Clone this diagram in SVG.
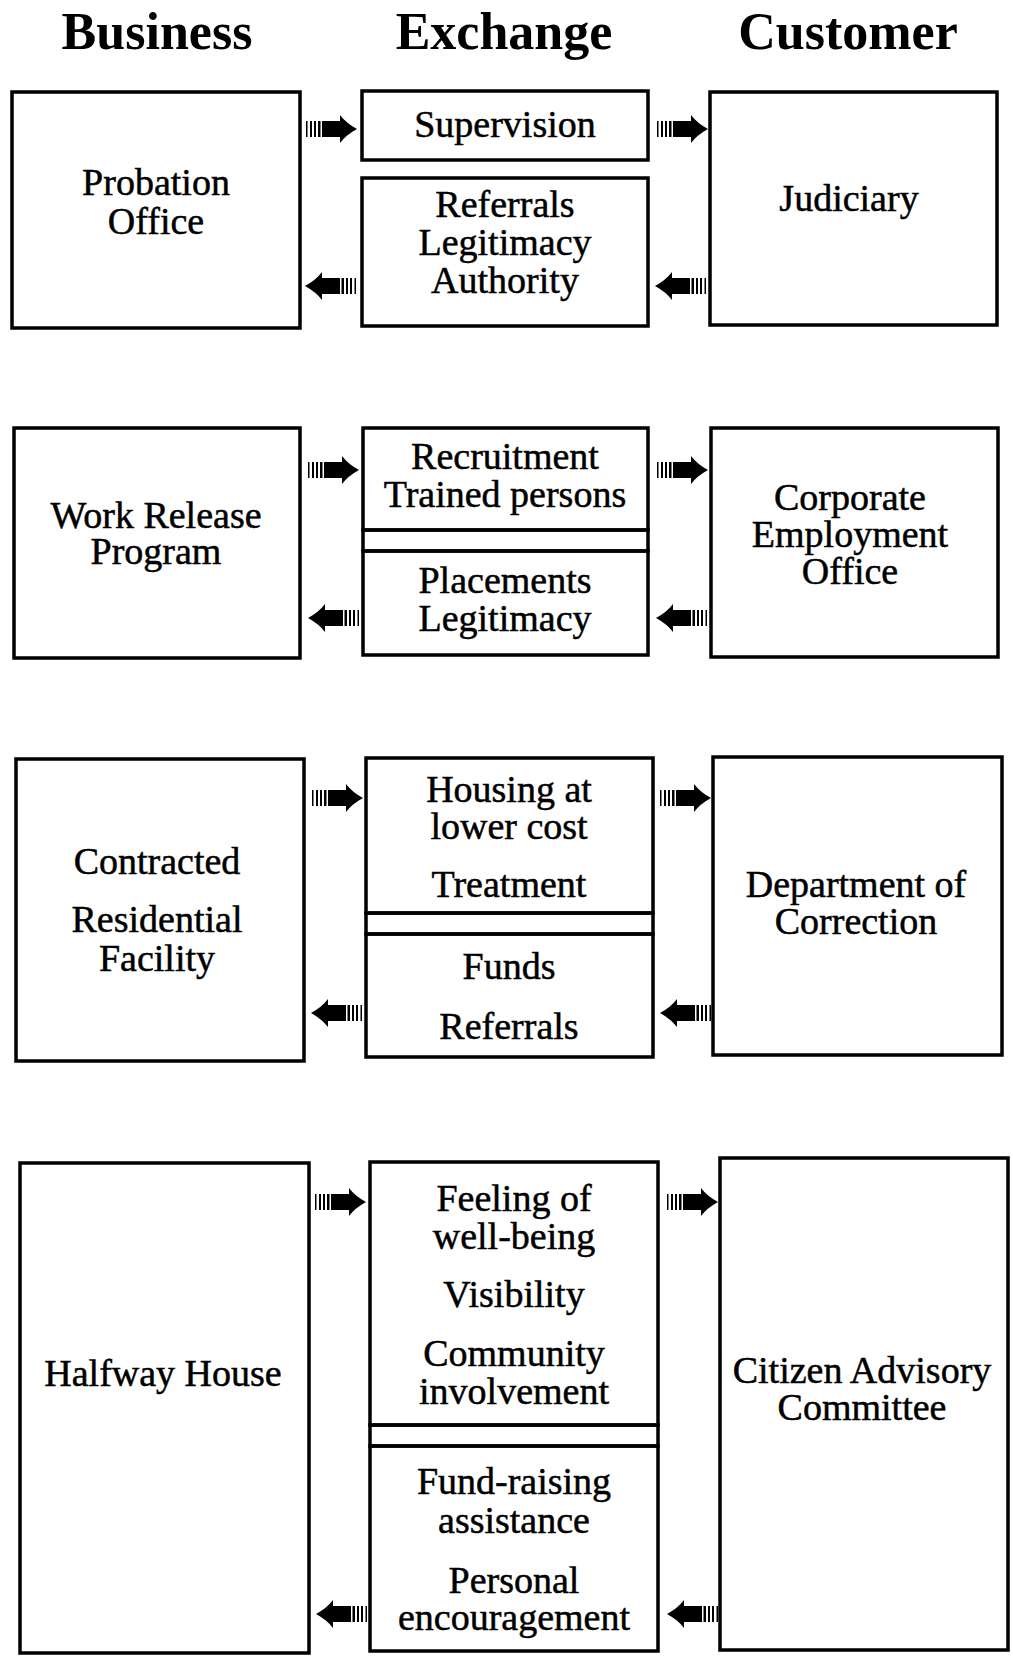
<svg xmlns="http://www.w3.org/2000/svg" width="1013" height="1660" viewBox="0 0 1013 1660">
<style>
.bx{fill:none;stroke:#000;stroke-width:3.5}
.t{font-family:"Liberation Serif",serif;font-size:38px;text-anchor:middle;fill:#000;stroke:#000;stroke-width:0.5}
.h{font-family:"Liberation Serif",serif;font-size:52px;font-weight:bold;text-anchor:middle;fill:#000}
</style>
<defs>
<g id="arrowR">
<rect x="0" y="-8" width="1.5" height="16"/>
<rect x="4" y="-8" width="2" height="16"/>
<rect x="8" y="-8" width="2" height="16"/>
<rect x="12" y="-8" width="2.5" height="16"/>
<rect x="16" y="-8" width="20" height="16"/>
<path d="M34,-14 Q40,-6 51,0 Q40,6 34,14 Z"/>
</g>
</defs>
<rect width="1013" height="1660" fill="#fff"/>
<g id="headers">
<text class="h" x="157" y="49">Business</text>
<text class="h" x="504" y="49">Exchange</text>
<text class="h" x="848" y="49">Customer</text>
</g>
<!-- Section 1 -->
<g id="probation-office">
<rect class="bx" x="12" y="92" width="288" height="236"/>
<text class="t"><tspan x="156" y="195">Probation</tspan><tspan x="156" y="234">Office</tspan></text>
</g>
<g id="exchange1-top">
<rect class="bx" x="362" y="91" width="286" height="69"/>
<text class="t" x="505" y="137">Supervision</text>
</g>
<g id="exchange1-bottom">
<rect class="bx" x="362" y="178" width="286" height="148"/>
<text class="t"><tspan x="505" y="217">Referrals</tspan><tspan x="505" y="255">Legitimacy</tspan><tspan x="505" y="293">Authority</tspan></text>
</g>
<g id="judiciary">
<rect class="bx" x="710" y="92" width="287" height="233"/>
<text class="t" x="849" y="211">Judiciary</text>
</g>
<!-- Section 2 -->
<g id="work-release-program">
<rect class="bx" x="14" y="428" width="286" height="230"/>
<text class="t"><tspan x="156" y="528">Work Release</tspan><tspan x="156" y="564">Program</tspan></text>
</g>
<g id="exchange2">
<rect class="bx" x="363" y="428" width="285" height="102"/>
<rect class="bx" x="363" y="530" width="285" height="21"/>
<rect class="bx" x="363" y="551" width="285" height="104"/>
<text class="t"><tspan x="505" y="469">Recruitment</tspan><tspan x="505" y="507">Trained persons</tspan></text>
<text class="t"><tspan x="505" y="593">Placements</tspan><tspan x="505" y="631">Legitimacy</tspan></text>
</g>
<g id="corporate-employment-office">
<rect class="bx" x="711" y="428" width="287" height="229"/>
<text class="t"><tspan x="850" y="510">Corporate</tspan><tspan x="850" y="547">Employment</tspan><tspan x="850" y="584">Office</tspan></text>
</g>
<!-- Section 3 -->
<g id="contracted-residential-facility">
<rect class="bx" x="16" y="759" width="288" height="302"/>
<text class="t"><tspan x="157" y="874">Contracted</tspan><tspan x="157" y="932">Residential</tspan><tspan x="157" y="971">Facility</tspan></text>
</g>
<g id="exchange3">
<rect class="bx" x="366" y="758" width="287" height="155"/>
<rect class="bx" x="366" y="913" width="287" height="21"/>
<rect class="bx" x="366" y="934" width="287" height="123"/>
<text class="t"><tspan x="509" y="802">Housing at</tspan><tspan x="509" y="839">lower cost</tspan><tspan x="509" y="897">Treatment</tspan></text>
<text class="t"><tspan x="509" y="979">Funds</tspan><tspan x="509" y="1039">Referrals</tspan></text>
</g>
<g id="department-of-correction">
<rect class="bx" x="713" y="757" width="289" height="298"/>
<text class="t"><tspan x="856" y="897">Department of</tspan><tspan x="856" y="934">Correction</tspan></text>
</g>
<!-- Section 4 -->
<g id="halfway-house">
<rect class="bx" x="20" y="1163" width="289" height="490"/>
<text class="t" x="163" y="1386">Halfway House</text>
</g>
<g id="exchange4">
<rect class="bx" x="370" y="1162" width="288" height="263"/>
<rect class="bx" x="370" y="1425" width="288" height="21"/>
<rect class="bx" x="370" y="1446" width="288" height="205"/>
<text class="t"><tspan x="514" y="1211">Feeling of</tspan><tspan x="514" y="1249">well-being</tspan><tspan x="514" y="1307">Visibility</tspan><tspan x="514" y="1366">Community</tspan><tspan x="514" y="1404">involvement</tspan></text>
<text class="t"><tspan x="514" y="1494">Fund-raising</tspan><tspan x="514" y="1533">assistance</tspan><tspan x="514" y="1593">Personal</tspan><tspan x="514" y="1630">encouragement</tspan></text>
</g>
<g id="citizen-advisory-committee">
<rect class="bx" x="720" y="1158" width="288" height="492"/>
<text class="t"><tspan x="862" y="1383">Citizen Advisory</tspan><tspan x="862" y="1420">Committee</tspan></text>
</g>
<g id="connectors">
<use href="#arrowR" transform="translate(306,129)"/>
<use href="#arrowR" transform="translate(657,129)"/>
<use href="#arrowR" transform="translate(356,286) scale(-1,1)"/>
<use href="#arrowR" transform="translate(706,286) scale(-1,1)"/>
<use href="#arrowR" transform="translate(308,470)"/>
<use href="#arrowR" transform="translate(657,470)"/>
<use href="#arrowR" transform="translate(359,618) scale(-1,1)"/>
<use href="#arrowR" transform="translate(707,618) scale(-1,1)"/>
<use href="#arrowR" transform="translate(312,798)"/>
<use href="#arrowR" transform="translate(660,798)"/>
<use href="#arrowR" transform="translate(362,1013) scale(-1,1)"/>
<use href="#arrowR" transform="translate(711,1013) scale(-1,1)"/>
<use href="#arrowR" transform="translate(315,1202)"/>
<use href="#arrowR" transform="translate(667,1202)"/>
<use href="#arrowR" transform="translate(367,1614) scale(-1,1)"/>
<use href="#arrowR" transform="translate(718,1614) scale(-1,1)"/>
</g>
</svg>
